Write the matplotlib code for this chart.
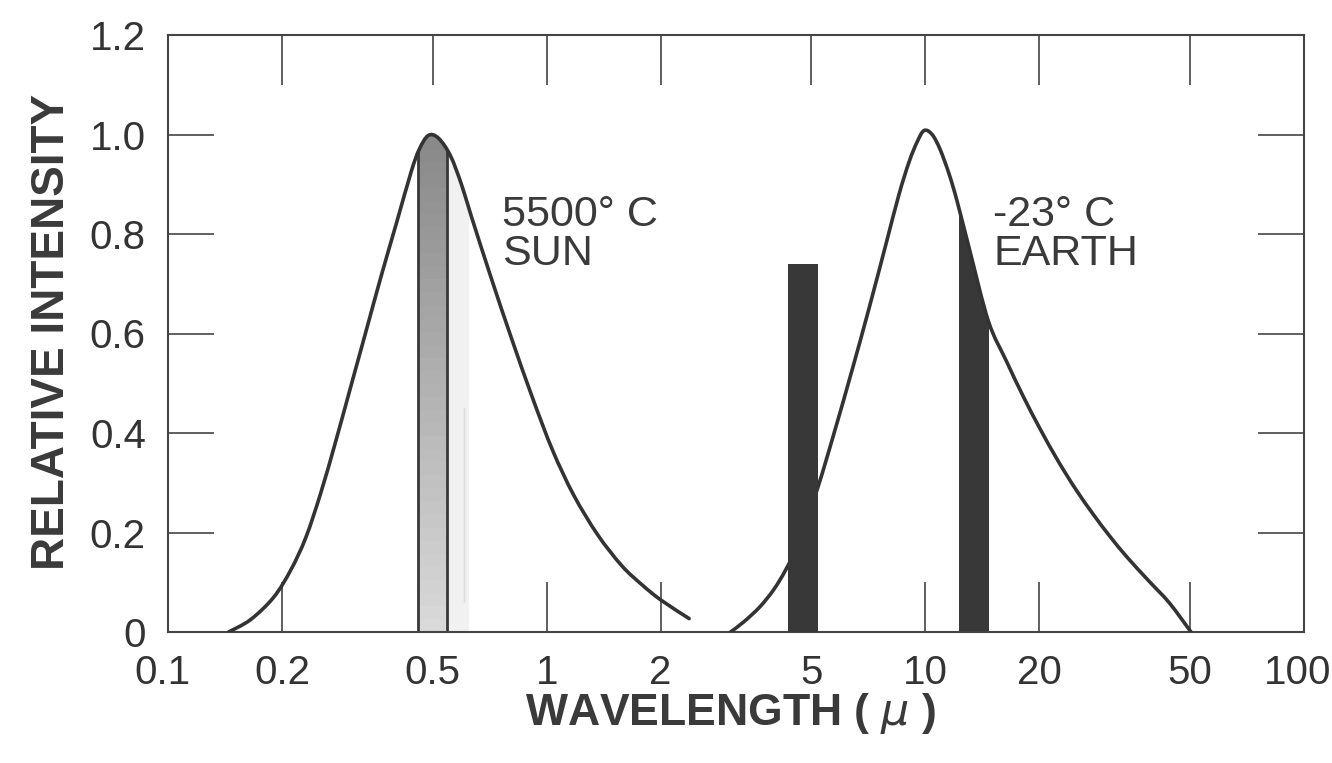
import numpy as np
import matplotlib
matplotlib.use("Agg")
import matplotlib.pyplot as plt
from matplotlib.path import Path
from matplotlib.patches import PathPatch
import matplotlib.transforms as mtransforms

plt.rcParams['font.family'] = ['Liberation Sans', 'DejaVu Sans']
plt.rcParams['mathtext.fontset'] = 'dejavusans'

# ---- data ----
sun_x = [0.1445, 0.1653, 0.1902, 0.2111, 0.2312, 0.2533, 0.2777, 0.3043, 0.3335,
         0.3654, 0.4005, 0.4387, 0.4607, 0.4868, 0.5173, 0.5565, 0.5954, 0.6328,
         0.7148, 0.8077, 0.9182, 1.037, 1.179, 1.365, 1.580, 1.785, 2.005, 2.378]
sun_y = [0.0, 0.025, 0.07, 0.125, 0.19, 0.28, 0.385, 0.495, 0.605,
         0.715, 0.82, 0.925, 0.97, 0.998, 0.993, 0.958, 0.90, 0.835,
         0.71, 0.59, 0.47, 0.365, 0.275, 0.195, 0.133, 0.095, 0.064, 0.027]

earth_x = [3.058, 3.311, 3.650, 3.976, 4.278, 4.631, 5.198, 5.768, 6.397, 7.098,
           7.873, 8.523, 9.060, 9.513, 9.927, 10.42, 10.94, 11.56, 12.14, 13.07,
           14.67, 16.36, 18.18, 20.20, 22.45, 24.95, 27.73, 30.81, 34.23, 38.88,
           44.15, 50.3]
earth_y = [0.0, 0.02, 0.05, 0.085, 0.125, 0.18, 0.29, 0.405, 0.525, 0.65,
           0.78, 0.88, 0.945, 0.985, 1.008, 1.0, 0.97, 0.92, 0.865, 0.77,
           0.625, 0.545, 0.472, 0.405, 0.343, 0.287, 0.237, 0.191, 0.149, 0.103,
           0.058, 0.0]

# absorption / window bands (left edge, right edge, height)
sun_band = (0.4585, 0.5446)
sun_faint_band = (0.5446, 0.625)
earth_bar1 = (4.33, 5.20, 0.74)
earth_bar2 = (12.24, 14.7)

xtick_vals = [0.1, 0.2, 0.5, 1, 2, 5, 10, 20, 50, 100]
xtick_labels = ["0.1", "0.2", "0.5", "1", "2", "5", "10", "20", "50", "100"]
ytick_vals = [0, 0.2, 0.4, 0.6, 0.8, 1.0, 1.2]
ytick_labels = ["0", "0.2", "0.4", "0.6", "0.8", "1.0", "1.2"]


def smooth_curve(xs, ys, close=False):
    """Smooth path through the read points (Catmull-Rom in log-x space, as Bezier)."""
    lx = np.log10(np.asarray(xs, float))
    y = np.asarray(ys, float)
    m = len(lx)
    verts = [(xs[0], ys[0])]
    codes = [Path.MOVETO]
    for i in range(m - 1):
        p0 = max(i - 1, 0)
        p3 = min(i + 2, m - 1)
        c1 = (lx[i] + (lx[i + 1] - lx[p0]) / 6, y[i] + (y[i + 1] - y[p0]) / 6)
        c2 = (lx[i + 1] - (lx[p3] - lx[i]) / 6, y[i + 1] - (y[p3] - y[i]) / 6)
        verts += [(10 ** c1[0], c1[1]), (10 ** c2[0], c2[1]), (xs[i + 1], ys[i + 1])]
        codes += [Path.CURVE4] * 3
    if close:
        verts += [(xs[-1], 0), (xs[0], 0), (xs[0], 0)]
        codes += [Path.LINETO, Path.LINETO, Path.CLOSEPOLY]
    return Path(verts, codes)


W, H = 1332, 763
fig = plt.figure(figsize=(W / 100, H / 100), dpi=100)
ax = fig.add_axes([168 / W, 1 - 632 / H, (1304 - 168) / W, (632 - 35) / H])
ax.set_xscale('log')
ax.set_xlim(0.1, 100)
ax.set_ylim(0, 1.2)

line_col = '#333333'
dark = '#383838'

sun_path = smooth_curve(sun_x, sun_y, close=True)
earth_path = smooth_curve(earth_x, earth_y, close=True)

# faint light band right of sun band
fb = ax.bar(sun_faint_band[0], 1.1, width=sun_faint_band[1] - sun_faint_band[0],
            align='edge', color='#f1f1f1', linewidth=0, zorder=1)
for p in fb:
    p.set_clip_path(sun_path, ax.transData)
ax.plot([0.605, 0.605], [0.06, 0.45], color='#dcdcdc', lw=1.0, zorder=1)

# stippled gradient sun band
n = 40
top_c = np.array([0.52, 0.52, 0.52])
bot_c = np.array([0.85, 0.85, 0.85])
for i in range(n):
    y0 = i * 1.05 / n
    t = i / (n - 1)
    c = bot_c * (1 - t) + top_c * t
    b = ax.bar(sun_band[0], 1.05 / n + 0.002, width=sun_band[1] - sun_band[0],
               bottom=y0, align='edge', color=c, linewidth=0, zorder=2)
    for p in b:
        p.set_clip_path(sun_path, ax.transData)
eb = ax.bar(sun_band[0], 1.1, width=sun_band[1] - sun_band[0], align='edge',
            fill=False, edgecolor=dark, linewidth=2.0, zorder=2.5)
for p in eb:
    p.set_clip_path(sun_path, ax.transData)

# earth bars
ax.bar(earth_bar1[0], earth_bar1[2], width=earth_bar1[1] - earth_bar1[0],
       align='edge', color=dark, linewidth=0, zorder=4)
b2 = ax.bar(earth_bar2[0], 1.1, width=earth_bar2[1] - earth_bar2[0],
            align='edge', color=dark, linewidth=0, zorder=2)
for p in b2:
    p.set_clip_path(earth_path, ax.transData)

# curves
ax.add_patch(PathPatch(smooth_curve(sun_x, sun_y), fill=False, edgecolor=line_col,
                       lw=2.6, zorder=3, capstyle='round'))
ax.add_patch(PathPatch(smooth_curve(earth_x, earth_y), fill=False, edgecolor=line_col,
                       lw=2.6, zorder=3, capstyle='round'))

# axes styling
for s in ax.spines.values():
    s.set_color('#444444')
    s.set_linewidth(1.5)
ax.xaxis.set_major_locator(matplotlib.ticker.FixedLocator(xtick_vals))
ax.xaxis.set_minor_locator(matplotlib.ticker.NullLocator())
ax.set_xticklabels(xtick_labels)
ax.set_yticks(ytick_vals)
ax.set_yticklabels(ytick_labels)
ax.tick_params(which='major', direction='in', top=True, right=True, width=1.2,
               color='#444444', labelsize=29, labelcolor='#333333', pad=16)
ax.tick_params(axis='x', length=36)
ax.tick_params(axis='y', length=33)
lbl100 = ax.get_xticklabels()[-1]
lbl100.set_transform(lbl100.get_transform() +
                     mtransforms.ScaledTranslation(-6 / 100, 0, fig.dpi_scale_trans))
lbl01 = ax.get_xticklabels()[0]
lbl01.set_transform(lbl01.get_transform() +
                    mtransforms.ScaledTranslation(-6 / 100, 0, fig.dpi_scale_trans))

txt_col = '#3a3a3a'
ax.text(0.76, 0.839, "5500° C", fontsize=31, color=txt_col, ha='left', va='center')
ax.text(0.76, 0.759, "SUN", fontsize=31, color=txt_col, ha='left', va='center')
ax.text(15.1, 0.839, "-23° C", fontsize=31, color=txt_col, ha='left', va='center')
ax.text(15.1, 0.759, "EARTH", fontsize=31, color=txt_col, ha='left', va='center')

fig.text(52 / W, 1 - 332 / H, "RELATIVE INTENSITY", rotation=90, ha='center',
         va='center', fontsize=33, fontweight='bold', color=txt_col)
fig.text(731 / W, 1 - 713 / H, r"WAVELENGTH ( $\mu$ )", ha='center', va='center',
         fontsize=32, fontweight='bold', color=txt_col)

fig.savefig("out.png", dpi=100, facecolor='white')
